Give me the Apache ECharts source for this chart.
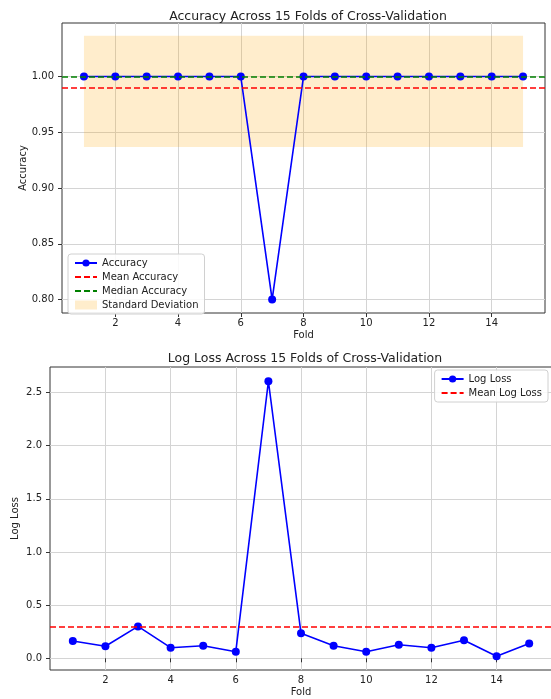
<!DOCTYPE html>
<html><head><meta charset="utf-8">
<script src="https://cdn.jsdelivr.net/npm/echarts@6/dist/echarts.min.js"></script>
<style>html,body{margin:0;padding:0;background:#fff}#c{width:551px;height:699px}</style>
</head><body><div id="c"></div>
<script>
const folds = [1,2,3,4,5,6,7,8,9,10,11,12,13,14,15];
const accuracy = [1,1,1,1,1,1,0.8,1,1,1,1,1,1,1,1];
const accMean = 0.9867;
const accMedian = 1.0;
const accStdLow = 0.9368;
const accStdHigh = 1.0366;
const logLoss = [0.162,0.113,0.300,0.100,0.118,0.062,2.606,0.235,0.118,0.062,0.128,0.100,0.169,0.019,0.140];
const logLossMean = 0.296;
const xTicks = [2,4,6,8,10,12,14];
const accTicks = [0.80,0.85,0.90,0.95,1.00];
const lossTicks = [0.0,0.5,1.0,1.5,2.0,2.5];

const FONT = 'DejaVu Sans';
const txt = '#222';
const gridLine = {show:true, lineStyle:{color:'#d4d4d4', width:1}};

function xAxis(gi, min, max){
  return {type:'value', gridIndex:gi, min:min, max:max,
    name:'Fold', nameLocation:'middle', nameGap:17, nameMoveOverlap:false,
    nameTextStyle:{fontFamily:FONT, fontSize:10, color:txt},
    axisLine:{show:false},
    axisTick:{show:true, inside:false, length:4, lineStyle:{color:'#333'}, customValues:xTicks},
    axisLabel:{fontFamily:FONT, fontSize:10, color:txt, margin:5, customValues:xTicks},
    splitLine:gridLine};
}
function yAxis(gi, min, max, ticks, name, gap, dec){
  return {type:'value', gridIndex:gi, min:min, max:max,
    name:name, nameLocation:'middle', nameGap:gap, nameRotate:90, nameMoveOverlap:false,
    nameTextStyle:{fontFamily:FONT, fontSize:10, color:txt},
    axisLine:{show:false},
    axisTick:{show:true, inside:false, length:4, lineStyle:{color:'#333'}, customValues:ticks},
    axisLabel:{fontFamily:FONT, fontSize:10, color:txt, margin:8, customValues:ticks,
      formatter:v=>v.toFixed(dec)},
    splitLine:gridLine};
}
const dash = [6,3];
const noSym = {opacity:0};
const chart = echarts.init(document.getElementById('c'), null, {renderer:'canvas'});
chart.setOption({
  animation:false,
  backgroundColor:'#fff',
  title:[
    {text:'Accuracy Across 15 Folds of Cross-Validation', left:303, top:5, textAlign:'center',
     textStyle:{fontFamily:FONT, fontSize:12.5, fontWeight:'normal', color:txt}},
    {text:'Log Loss Across 15 Folds of Cross-Validation', left:300, top:347, textAlign:'center',
     textStyle:{fontFamily:FONT, fontSize:12.5, fontWeight:'normal', color:txt}}
  ],
  grid:[
    {left:62, top:23, right:6, height:290, show:true, borderColor:'#333', borderWidth:1, backgroundColor:'transparent', outerBoundsMode:'none', containLabel:false},
    {left:50, top:367, right:-1, height:303, show:true, borderColor:'#333', borderWidth:1, backgroundColor:'transparent', outerBoundsMode:'none', containLabel:false}
  ],
  xAxis:[xAxis(0,0.3,15.7), xAxis(1,0.3,15.7)],
  yAxis:[yAxis(0,0.788,1.048,accTicks,'Accuracy',34,2), yAxis(1,-0.11,2.74,lossTicks,'Log Loss',30,1)],
  legend:[
    {left:68, top:254, orient:'vertical', itemWidth:22, itemHeight:9, itemGap:4,
     backgroundColor:'rgba(255,255,255,0.85)', borderColor:'#d0d0d0', borderWidth:1, borderRadius:3, padding:[4,6],
     textStyle:{fontFamily:FONT, fontSize:10, color:txt},
     data:['Accuracy',
           {name:'Mean Accuracy', itemStyle:noSym},
           {name:'Median Accuracy', itemStyle:noSym},
           {name:'Standard Deviation', icon:'rect'}]},
    {right:3, top:370, orient:'vertical', itemWidth:22, itemHeight:9, itemGap:4,
     backgroundColor:'rgba(255,255,255,0.85)', borderColor:'#d0d0d0', borderWidth:1, borderRadius:3, padding:[4,6],
     textStyle:{fontFamily:FONT, fontSize:10, color:txt},
     data:['Log Loss', {name:'Mean Log Loss', itemStyle:noSym}]}
  ],
  series:[
    {name:'Standard Deviation', type:'line', xAxisIndex:0, yAxisIndex:0, data:[], symbol:'none',
     itemStyle:{color:'rgba(255,165,0,0.2)'}, lineStyle:{width:0},
     markArea:{silent:true, itemStyle:{color:'rgba(255,165,0,0.2)'},
       data:[[{xAxis:folds[0], yAxis:accStdLow},{xAxis:folds[folds.length-1], yAxis:accStdHigh}]]}},
    {name:'Accuracy', type:'line', xAxisIndex:0, yAxisIndex:0, z:3,
     data:folds.map((f,i)=>[f,accuracy[i]]), symbol:'circle', symbolSize:8, showSymbol:true,
     itemStyle:{color:'#0000ff'}, lineStyle:{color:'#0000ff', width:1.6}},
    {name:'Mean Accuracy', type:'line', xAxisIndex:0, yAxisIndex:0, data:[], symbol:'none',
     itemStyle:{color:'#ff0000'}, lineStyle:{color:'#ff0000', width:1.5, type:dash},
     markLine:{silent:true, symbol:['none','none'], label:{show:false},
       lineStyle:{color:'#ff0000', width:1.5, type:dash}, data:[{yAxis:accMean}]}},
    {name:'Median Accuracy', type:'line', xAxisIndex:0, yAxisIndex:0, data:[], symbol:'none',
     itemStyle:{color:'#008000'}, lineStyle:{color:'#008000', width:1.5, type:dash},
     markLine:{silent:true, symbol:['none','none'], label:{show:false},
       lineStyle:{color:'#008000', width:1.5, type:dash}, data:[{yAxis:accMedian}]}},
    {name:'Log Loss', type:'line', xAxisIndex:1, yAxisIndex:1, z:3,
     data:folds.map((f,i)=>[f,logLoss[i]]), symbol:'circle', symbolSize:8, showSymbol:true,
     itemStyle:{color:'#0000ff'}, lineStyle:{color:'#0000ff', width:1.6}},
    {name:'Mean Log Loss', type:'line', xAxisIndex:1, yAxisIndex:1, data:[], symbol:'none',
     itemStyle:{color:'#ff0000'}, lineStyle:{color:'#ff0000', width:1.5, type:dash},
     markLine:{silent:true, symbol:['none','none'], label:{show:false},
       lineStyle:{color:'#ff0000', width:1.5, type:dash}, data:[{yAxis:logLossMean}]}}
  ]
});
</script></body></html>
